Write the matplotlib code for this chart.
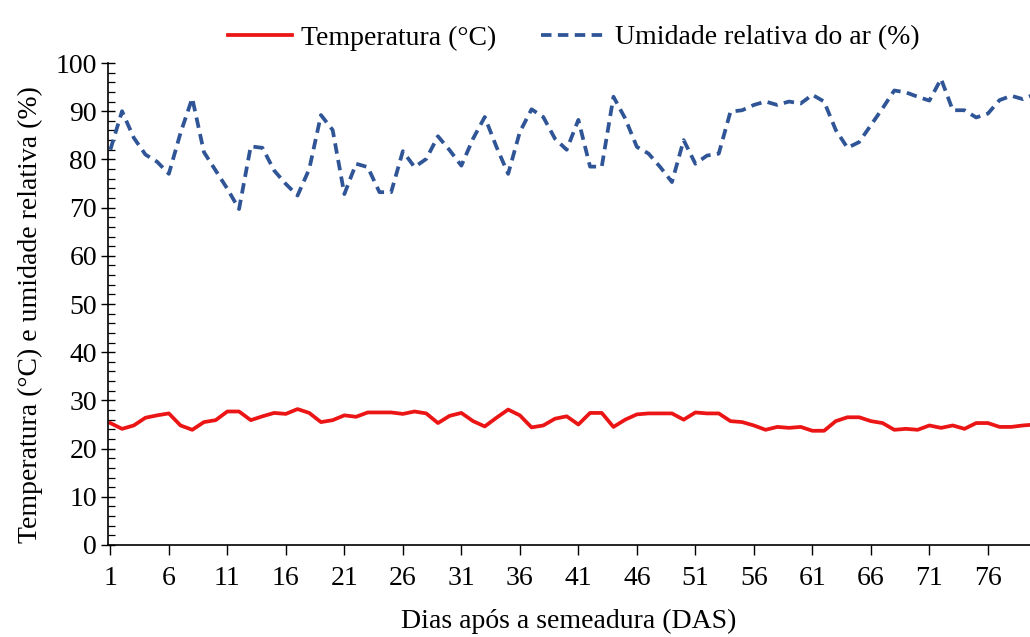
import matplotlib
matplotlib.use("Agg")
import matplotlib.pyplot as plt
from matplotlib.ticker import MultipleLocator

# daily climate records, days after sowing 1..80
days = list(range(1, 81))
temperatura = [
    25.3, 24.1, 24.8, 26.4, 26.9, 27.3, 24.8, 23.9, 25.5, 25.9,
    27.7, 27.7, 25.9, 26.7, 27.4, 27.2, 28.2, 27.4, 25.5, 25.9,
    26.9, 26.6, 27.5, 27.5, 27.5, 27.2, 27.7, 27.3, 25.3, 26.8,
    27.4, 25.7, 24.6, 26.4, 28.1, 26.9, 24.4, 24.8, 26.2, 26.7,
    25.0, 27.4, 27.4, 24.5, 26.0, 27.1, 27.3, 27.3, 27.3, 26.0,
    27.5, 27.3, 27.3, 25.7, 25.5, 24.8, 23.9, 24.5, 24.3, 24.5,
    23.7, 23.7, 25.7, 26.5, 26.5, 25.7, 25.3, 23.9, 24.1, 23.9,
    24.8, 24.3, 24.8, 24.1, 25.3, 25.3, 24.5, 24.5, 24.8, 25.0,
]
umidade = [
    82.0, 90.0, 84.5, 81.0, 79.5, 77.0, 85.5, 92.7, 81.5, 77.7,
    73.9, 69.7, 82.7, 82.4, 77.7, 74.9, 72.5, 78.0, 89.2, 86.1,
    72.8, 79.1, 78.4, 73.2, 73.2, 81.7, 78.4, 80.1, 84.8, 81.9,
    78.7, 84.3, 88.8, 82.6, 77.0, 85.7, 90.4, 88.8, 84.3, 82.0,
    88.2, 78.5, 78.5, 93.0, 88.5, 82.6, 81.2, 78.4, 75.3, 84.0,
    79.1, 80.8, 81.2, 89.9, 90.2, 91.3, 92.0, 91.3, 92.0, 91.6,
    93.4, 92.0, 86.1, 82.4, 83.6, 87.1, 90.6, 94.3, 93.9, 93.0,
    92.2, 96.7, 90.2, 90.2, 88.7, 89.5, 92.3, 93.2, 92.5, 93.5,
]
x_ticks = list(range(1, 80, 5))

plt.rcParams["font.family"] = ["Liberation Serif", "DejaVu Serif"]
fs = 20

fig = plt.figure(figsize=(10.30, 6.37), dpi=100)
ax = fig.add_axes([108 / 1030, 1 - 545 / 637, (1030 - 108) / 1030, (545 - 63) / 637])

ax.plot(days, temperatura, color="#ec1515", lw=2.7, label="Temperatura (°C)")
ax.plot(days, umidade, color="#2f5597", lw=2.7, ls=(0, (2.8, 1.7)),
        label="Umidade relativa do ar (%)")

ax.set_xlim(0.8, 79.6)
ax.set_ylim(0, 100)
ax.set_xticks(x_ticks)
ax.yaxis.set_major_locator(MultipleLocator(10))
ax.yaxis.set_minor_locator(MultipleLocator(2))

for side in ("top", "right"):
    ax.spines[side].set_visible(False)
for side in ("left", "bottom"):
    ax.spines[side].set_linewidth(1.2)

ax.tick_params(axis="x", direction="out", length=7, width=1.0, labelsize=fs, pad=8)
ax.tick_params(axis="y", which="major", direction="inout", length=10, width=1.0,
               labelsize=fs, pad=3)
ax.tick_params(axis="y", which="minor", direction="in", length=5, width=0.9)

ax.set_xlabel("Dias após a semeadura (DAS)", fontsize=fs, labelpad=13)
ax.set_ylabel("Temperatura (°C) e umidade relativa (%)", fontsize=fs)
ax.yaxis.set_label_coords(-0.071, 0.478)

ax.legend(loc="lower center", bbox_to_anchor=(0.505, 1.0), ncol=2, frameon=False,
          fontsize=fs, handlelength=2.3, columnspacing=1.6, handletextpad=0.35,
          borderaxespad=0.05)

fig.savefig("out.png", dpi=100)
